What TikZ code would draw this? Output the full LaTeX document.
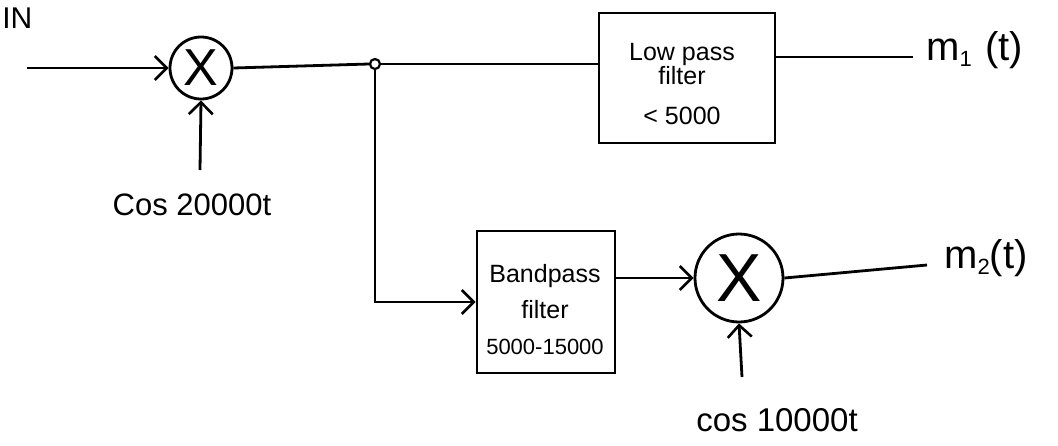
\documentclass[tikz,border=0pt]{standalone}
\usepackage{fontspec}
\setmainfont{Liberation Sans}
\usetikzlibrary{arrows.meta}
\newcommand{\subidx}[1]{\raisebox{-6pt}{\fontsize{22}{22}\selectfont #1}}
\begin{document}
\begin{tikzpicture}[x=1pt,y=-1pt,line width=2.8pt,
  arr/.style={-{Straight Barb[length=12pt,width=24pt,line width=2.6pt]}},
  mixer/.style={draw,circle,inner sep=0pt},
  filt/.style={draw,rectangle,inner sep=0pt},
  filttext/.style={align=center,inner sep=0pt,font=\fontsize{25}{24}\selectfont},
  lbl/.style={inner sep=0pt},
  outlbl/.style={font=\fontsize{40}{40}\selectfont,inner sep=0pt}]
\useasboundingbox (0,0) rectangle (1058,445);
% input
\node[lbl,anchor=west,font=\fontsize{30}{30}\selectfont] (inlbl) at (1,18) {IN};
\coordinate (in) at (27,68);
% mixer 1
\node[mixer,minimum size=62pt,font=\fontsize{52}{52}\selectfont] (mx1) at (201,68) {X};
\coordinate (c1) at (200,170);
\node[lbl,font=\fontsize{31}{31}\selectfont] (cos1) at (192,205) {Cos 20000t};
% junction
\node[draw,circle,inner sep=0pt,minimum size=10pt,line width=2.2pt] (j) at (375,64) {};
% low pass filter
\node[filt,minimum width=176pt,minimum height=130pt] (lp) at (687,78) {};
\node[filttext] (lptext) at (682,84) {Low pass\\filter\\[16pt]< 5000};
\coordinate (o1) at (913,57);
\node[outlbl,anchor=west] (m1) at (925,50) {m\subidx{1}\,\,(t)};
% band pass filter
\node[filt,minimum width=138pt,minimum height=142pt] (bp) at (546,302) {};
\node[filttext] (bptext) at (545,310) {Bandpass\\[12pt]filter\\[12pt]{\fontsize{22}{24}\selectfont 5000-15000}};
% mixer 2
\node[mixer,minimum size=88pt,font=\fontsize{68}{68}\selectfont] (mx2) at (739,278) {X};
\coordinate (c2) at (742,377);
\node[lbl,font=\fontsize{33}{33}\selectfont] (cos2) at (777,420) {cos 10000t};
\coordinate (o2) at (927,265);
\node[outlbl,anchor=west] (m2) at (943,258) {m\subidx{2}(t)};
% connectors
\draw[arr] (in) -- (mx1.west);
\draw[arr] (c1) -- (mx1.south);
\draw (mx1.east) -- (j.west);
\draw (j.east) -- (j -| lp.west);
\draw (lp.east |- o1) -- (o1);
\draw[arr] (j.south) |- (bp.west);
\draw[arr] (bp.east |- mx2) -- (mx2.west);
\draw[arr] (c2) -- (mx2.south);
\draw (mx2.east) -- (o2);
\end{tikzpicture}
\end{document}
